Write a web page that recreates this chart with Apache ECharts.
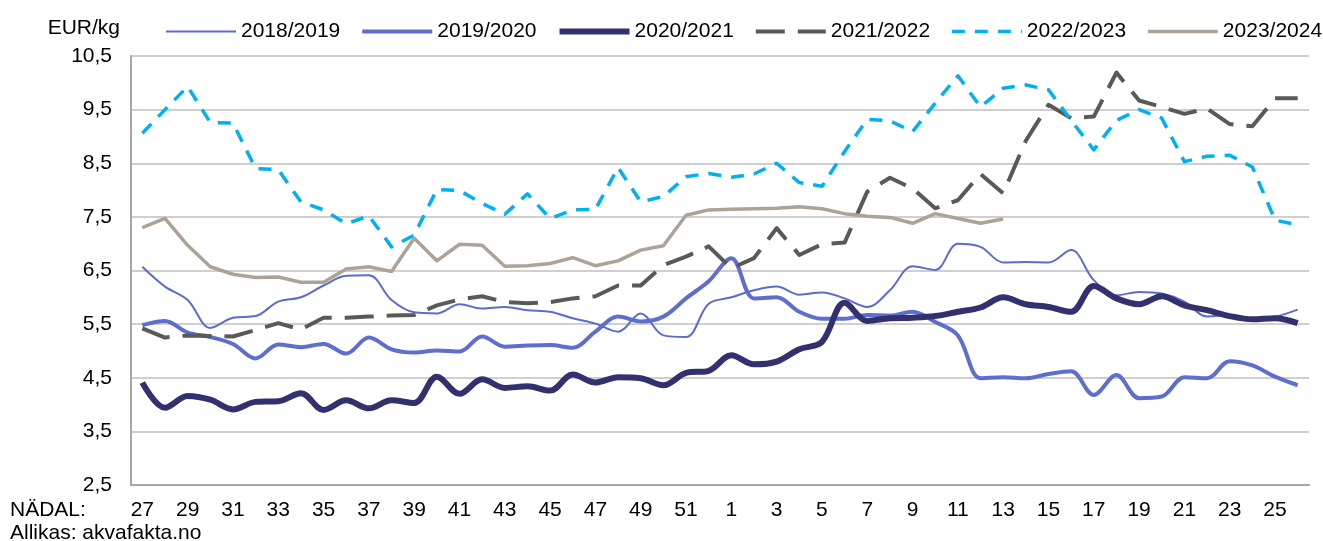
<!DOCTYPE html>
<html>
<head>
<meta charset="utf-8">
<script src="https://cdn.jsdelivr.net/npm/echarts@6/dist/echarts.min.js"></script>
<style>
  html, body { margin: 0; padding: 0; background: #fff; }
  #chart { width: 1323px; height: 541px; }
</style>
</head>
<body>
<div id="chart"></div>
<script>
// weeks 27..52, then 1..26
const weeks = ['27','28','29','30','31','32','33','34','35','36','37','38','39','40','41','42','43','44','45','46','47','48','49','50','51','52',
  '1','2','3','4','5','6','7','8','9','10','11','12','13','14','15','16','17','18','19','20','21','22','23','24','25','26']

const s1819 = [6.57,6.20,5.95,5.43,5.62,5.65,5.92,6.00,6.22,6.40,6.41,5.95,5.72,5.70,5.87,5.79,5.82,5.76,5.73,5.61,5.51,5.36,5.70,5.29,5.26,5.88,
  6.00,6.13,6.20,6.05,6.09,5.98,5.82,6.13,6.58,6.51,7.00,6.94,6.65,6.66,6.65,6.88,6.32,6.04,6.10,6.07,5.92,5.64,5.67,5.61,5.64,5.77]
const s1920 = [5.48,5.56,5.34,5.26,5.13,4.86,5.12,5.07,5.13,4.95,5.25,5.03,4.97,5.01,4.99,5.27,5.08,5.10,5.11,5.06,5.36,5.64,5.55,5.64,5.98,6.30,
  6.73,5.98,6.00,5.73,5.60,5.60,5.67,5.66,5.73,5.54,5.29,4.49,4.51,4.49,4.57,4.62,4.18,4.55,4.12,4.15,4.51,4.49,4.81,4.73,4.52,4.36]
const s2021 = [4.41,3.94,4.16,4.09,3.91,4.05,4.06,4.21,3.90,4.08,3.93,4.08,4.03,4.52,4.20,4.47,4.31,4.34,4.26,4.56,4.41,4.51,4.49,4.36,4.59,4.63,
  4.92,4.75,4.80,5.03,5.17,5.90,5.56,5.61,5.62,5.65,5.73,5.81,6.00,5.87,5.82,5.73,6.21,5.98,5.87,6.02,5.85,5.76,5.65,5.59,5.61,5.52]
const s2122 = [5.42,5.25,5.29,5.28,5.27,5.39,5.52,5.40,5.62,5.62,5.64,5.66,5.67,5.85,5.96,6.02,5.91,5.89,5.91,5.98,6.02,6.22,6.22,6.60,6.76,6.95,
  6.54,6.73,7.29,6.79,6.99,7.02,7.97,8.23,8.03,7.66,7.81,8.30,7.94,8.92,9.59,9.34,9.37,10.19,9.67,9.55,9.42,9.52,9.23,9.19,9.71,9.71]
const s2223 = [9.06,9.50,9.93,9.26,9.25,8.40,8.38,7.78,7.63,7.37,7.52,6.94,7.16,8.01,7.99,7.75,7.55,7.93,7.47,7.63,7.64,8.42,7.78,7.88,8.25,8.31,
  8.24,8.30,8.50,8.14,8.07,8.72,9.32,9.29,9.09,9.62,10.13,9.55,9.90,9.96,9.87,9.30,8.75,9.30,9.50,9.34,8.53,8.63,8.65,8.43,7.44,7.35]
const s2324 = [7.30,7.47,6.97,6.57,6.43,6.37,6.38,6.28,6.28,6.53,6.57,6.48,7.10,6.68,6.99,6.97,6.58,6.59,6.63,6.74,6.59,6.68,6.88,6.96,7.53,7.63,
  7.64,7.65,7.66,7.69,7.65,7.56,7.51,7.49,7.38,7.56,7.47,7.38,7.46]

const FONT = '"Liberation Sans", Arial, sans-serif'

const seriesDefs = [
  { name: '2018/2019', data: s1819, color: '#5B6BCF', width: 2, type: 'solid', smooth: 0.35 },
  { name: '2019/2020', data: s1920, color: '#5E6ECF', width: 4, type: 'solid', smooth: 0.35 },
  { name: '2020/2021', data: s2021, color: '#33306F', width: 6, type: 'solid', smooth: 0.35 },
  { name: '2021/2022', data: s2122, color: '#595959', width: 4, type: [29, 13], smooth: false },
  { name: '2022/2023', data: s2223, color: '#00B0F0', width: 3.5, type: [13, 10], smooth: false },
  { name: '2023/2024', data: s2324, color: '#ADA296', width: 3.5, type: 'solid', smooth: false }
]

const chart = echarts.init(document.getElementById('chart'))

chart.setOption({
  animation: false,
  textStyle: { fontFamily: FONT },
  legend: {
    left: 165,
    top: 21,
    padding: 0,
    itemWidth: 70,
    itemHeight: 20,
    itemGap: 20,
    textStyle: { fontSize: 21, color: '#000', fontFamily: FONT },
    data: seriesDefs.map(s => ({
      name: s.name,
      itemStyle: { opacity: 0 },
      lineStyle: { width: s.width, color: s.color, type: s.type }
    }))
  },
  grid: { left: 131, right: 14, top: 56, bottom: 56 },
  xAxis: {
    type: 'category',
    data: weeks,
    boundaryGap: true,
    axisLine: { lineStyle: { color: '#A6A6A6', width: 2 } },
    axisTick: { show: false },
    axisLabel: { interval: 1, fontSize: 21, color: '#000', margin: 15, fontFamily: FONT }
  },
  yAxis: {
    type: 'value',
    min: 2.5,
    max: 10.5,
    interval: 1,
    name: 'EUR/kg',
    nameLocation: 'end',
    nameGap: 28,
    nameTextStyle: { fontSize: 21, color: '#000', align: 'right', verticalAlign: 'middle', padding: [0, 11, 0, 0], fontFamily: FONT },
    axisLine: { show: true, lineStyle: { color: '#A6A6A6', width: 2 } },
    axisTick: { show: false },
    splitLine: { lineStyle: { color: '#BFBFBF', width: 1.5 } },
    axisLabel: {
      fontSize: 21, color: '#000', margin: 19, fontFamily: FONT,
      formatter: v => v.toFixed(1).replace('.', ',')
    }
  },
  graphic: [
    { type: 'text', left: 10, top: 500, style: { text: 'NÄDAL:', font: '21px ' + FONT, fill: '#000' } },
    { type: 'text', left: 10, top: 523, style: { text: 'Allikas: akvafakta.no', font: '21px ' + FONT, fill: '#000' } }
  ],
  series: seriesDefs.map(s => ({
    name: s.name,
    type: 'line',
    data: s.data,
    smooth: s.smooth,
    symbol: 'none',
    connectNulls: false,
    itemStyle: { color: s.color },
    lineStyle: { color: s.color, width: s.width, type: s.type, cap: 'butt', join: 'round' },
    emphasis: { disabled: true }
  }))
})
</script>
</body>
</html>
